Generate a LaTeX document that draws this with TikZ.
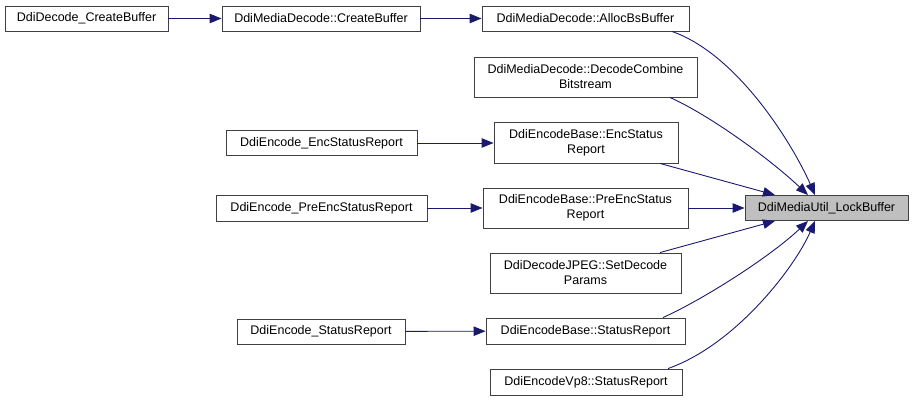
\documentclass[tikz,border=0pt]{standalone}
\usepackage{fontspec}
\setmainfont{Liberation Sans}
\usetikzlibrary{arrows.meta,calc}
\definecolor{edgeblue}{HTML}{191970}
\definecolor{boxline}{HTML}{404040}
\definecolor{hlfill}{HTML}{BFBFBF}
\begin{document}
\begin{tikzpicture}[x=1pt,y=-1pt,
  fnbox/.style={draw=boxline,line width=0.9pt,fill=white,inner sep=0pt,align=center,
    font=\fontsize{12.5}{15}\selectfont},
  hlbox/.style={fnbox,fill=hlfill},
  callarrow/.style={draw=edgeblue,line width=0.9pt,-{Triangle[length=12pt,width=9.5pt]}}
]
\useasboundingbox (0,0) rectangle (913,401);
\node[fnbox,minimum width=163pt,minimum height=25pt] (A) at (86.5,18.5) {DdiDecode\_CreateBuffer};
\node[fnbox,minimum width=198pt,minimum height=25pt] (B) at (321,18.5) {DdiMediaDecode::CreateBuffer};
\node[fnbox,minimum width=207pt,minimum height=25pt] (C) at (585.5,18.5) {DdiMediaDecode::AllocBsBuffer};
\node[fnbox,minimum width=223pt,minimum height=40pt] (D) at (585.5,77) {DdiMediaDecode::DecodeCombine\\Bitstream};
\node[fnbox,minimum width=184pt,minimum height=41pt] (E) at (586,142.5) {DdiEncodeBase::EncStatus\\Report};
\node[fnbox,minimum width=191pt,minimum height=25pt] (F) at (321.5,143) {DdiEncode\_EncStatusReport};
\node[fnbox,minimum width=205pt,minimum height=40pt] (G) at (585.5,208) {DdiEncodeBase::PreEncStatus\\Report};
\node[fnbox,minimum width=211pt,minimum height=26pt] (H) at (321.5,208) {DdiEncode\_PreEncStatusReport};
\node[hlbox,minimum width=163pt,minimum height=25pt] (I) at (826.5,208) {DdiMediaUtil\_LockBuffer};
\node[fnbox,minimum width=191pt,minimum height=40pt] (J) at (585.5,273) {DdiDecodeJPEG::SetDecode\\Params};
\node[fnbox,minimum width=199pt,minimum height=26pt] (K) at (585.5,331) {DdiEncodeBase::StatusReport};
\node[fnbox,minimum width=168pt,minimum height=25pt] (L) at (321,331.5) {DdiEncode\_StatusReport};
\node[fnbox,minimum width=192pt,minimum height=26pt] (M) at (586,382) {DdiEncodeVp8::StatusReport};

\draw[callarrow] (A) -- (B);
\draw[callarrow] (B) -- (C);
\draw[callarrow] (F) -- (F -| E.west);
\draw[callarrow] (H) -- (G);
\draw[callarrow] (L) -- (K);
\draw[callarrow] (G) -- (I);
\draw[callarrow] ([xshift=86.5pt]C.south) .. controls +(68,24) and +(-20,-46) .. ([xshift=-11.5pt]I.north);
\draw[callarrow] ([xshift=84.5pt]D.south) .. controls +(40,18) and +(-38,-36) .. ([xshift=-18.5pt]I.north);
\draw[callarrow] ([xshift=74pt]E.south) -- ([xshift=-51.5pt]I.north);
\draw[callarrow] ([xshift=74.5pt]J.north) -- ([xshift=-51.5pt]I.south);
\draw[callarrow] ([xshift=77.5pt]K.north) .. controls +(40,-18) and +(-38,36) .. ([xshift=-18.5pt]I.south);
\draw[callarrow] ([xshift=82pt]M.north) .. controls +(68,-24) and +(-20,46) .. ([xshift=-11.5pt]I.south);
\end{tikzpicture}
\end{document}
